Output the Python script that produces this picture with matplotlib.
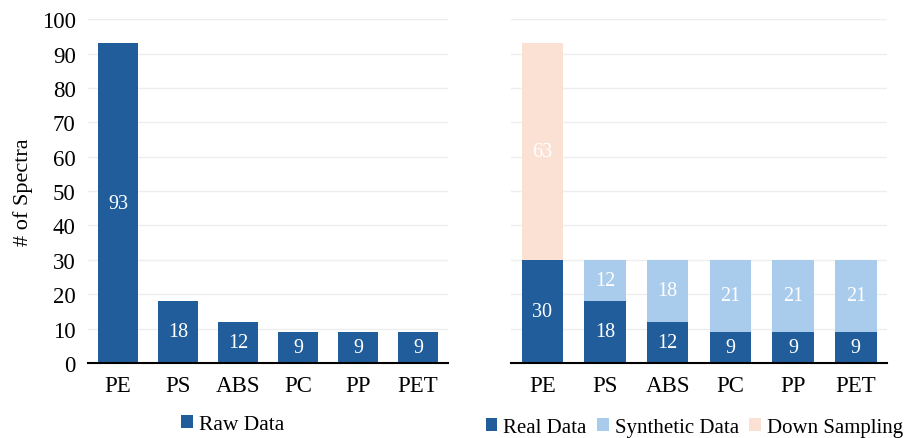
import matplotlib.pyplot as plt
import numpy as np

plt.rcParams['font.family'] = ['Liberation Serif', 'DejaVu Serif']

polymers = ['PE', 'PS', 'ABS', 'PC', 'PP', 'PET']
raw_counts = [93, 18, 12, 9, 9, 9]
real_counts = [30, 18, 12, 9, 9, 9]
synthetic_counts = [0, 12, 18, 21, 21, 21]
downsampled_counts = [63, 0, 0, 0, 0, 0]

DARK = '#215d9a'
LIGHT = '#a9cbec'
PEACH = '#fbe1d4'
GRID = '#eeeeee'

fig = plt.figure(figsize=(9.09, 4.39), dpi=100)
ax1 = fig.add_axes([0.097, 0.171, 0.396, 0.783])
ax2 = fig.add_axes([0.562, 0.171, 0.414, 0.783])

x = np.arange(len(polymers))
width = 0.66


def style_axes(ax, show_ticks):
    ax.set_ylim(0, 100)
    ax.set_xlim(-0.5, len(polymers) - 0.5)
    ax.set_yticks(np.arange(0, 101, 10))
    ax.yaxis.grid(True, color=GRID, linewidth=1)
    ax.set_axisbelow(True)
    for side in ['top', 'right', 'left']:
        ax.spines[side].set_visible(False)
    ax.spines['bottom'].set_linewidth(1.5)
    ax.set_xticks(x)
    ax.set_xticklabels(polymers, fontsize=16.5)
    ax.tick_params(axis='x', length=0, pad=9)
    ax.tick_params(axis='y', length=0, labelsize=16.5, pad=9)
    if not show_ticks:
        ax.set_yticklabels([])


def label_segments(ax, bottoms, heights):
    for xi, b, h in zip(x, bottoms, heights):
        if h > 0:
            ax.text(xi, b + h / 2, str(h), ha='center', va='center',
                    color='white', fontsize=14.5)


# raw data
ax1.bar(x, raw_counts, width, color=DARK, label='Raw Data')
label_segments(ax1, [0] * len(x), raw_counts)
style_axes(ax1, True)
ax1.set_ylabel('# of Spectra', fontsize=16, labelpad=6)
fig.legend(*ax1.get_legend_handles_labels(), loc='center',
           bbox_to_anchor=(0.256, 0.03), frameon=False, fontsize=15.5,
           handlelength=0.55, handleheight=0.55, handletextpad=0.3)

# balanced data
syn_bottom = real_counts
down_bottom = [r + s for r, s in zip(real_counts, synthetic_counts)]
ax2.bar(x, real_counts, width, color=DARK, label='Real Data')
ax2.bar(x, synthetic_counts, width, bottom=syn_bottom, color=LIGHT,
        label='Synthetic Data')
ax2.bar(x, downsampled_counts, width, bottom=down_bottom, color=PEACH,
        label='Down Sampling')
label_segments(ax2, [0] * len(x), real_counts)
label_segments(ax2, syn_bottom, synthetic_counts)
label_segments(ax2, down_bottom, downsampled_counts)
style_axes(ax2, False)
fig.legend(*ax2.get_legend_handles_labels(), loc='center',
           bbox_to_anchor=(0.764, 0.024), frameon=False, fontsize=15,
           ncol=3, handlelength=0.55, handleheight=0.55, handletextpad=0.3,
           columnspacing=0.5, borderpad=0.1)

fig.savefig('out.png', dpi=100)
